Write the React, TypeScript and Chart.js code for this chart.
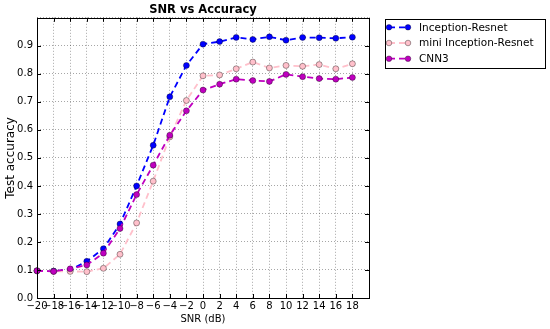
import React, { useEffect, useRef } from "react";
import { Chart, registerables } from "chart.js";

Chart.register(...registerables);

const snr = [-20, -18, -16, -14, -12, -10, -8, -6, -4, -2, 0, 2, 4, 6, 8, 10, 12, 14, 16, 18];
const inceptionResnet = [0.097, 0.096, 0.1, 0.131, 0.176, 0.264, 0.4, 0.545, 0.718, 0.83, 0.906, 0.915, 0.93, 0.923, 0.932, 0.92, 0.93, 0.929, 0.927, 0.931];
const miniInceptionResnet = [0.097, 0.095, 0.095, 0.094, 0.106, 0.156, 0.268, 0.417, 0.575, 0.705, 0.793, 0.796, 0.818, 0.842, 0.821, 0.83, 0.827, 0.833, 0.818, 0.836];
const cnn3 = [0.097, 0.095, 0.104, 0.118, 0.16, 0.248, 0.369, 0.474, 0.581, 0.668, 0.742, 0.763, 0.781, 0.776, 0.773, 0.798, 0.79, 0.783, 0.781, 0.787];
const seriesNames = ["Inception-Resnet", "mini Inception-Resnet", "CNN3"];
const seriesColors = ["#0000ff", "#ffc0cb", "#bf00bf"];
const chartTitle = "SNR vs Accuracy";
const xTitle = "SNR (dB)";
const yTitle = "Test accuracy";

const FONT = "'DejaVu Sans', sans-serif";

const framePlugin = {
  id: "frame",
  afterDraw(chart: any) {
    const { ctx, chartArea } = chart;
    const { left, right, top, bottom } = chartArea;
    ctx.save();
    ctx.strokeStyle = "#000";
    ctx.lineWidth = 1;
    // inward ticks
    const xs = chart.scales.x;
    const ys = chart.scales.y;
    ctx.beginPath();
    xs.ticks.forEach((t: any) => {
      const px = Math.round(xs.getPixelForValue(t.value)) + 0.5;
      ctx.moveTo(px, bottom);
      ctx.lineTo(px, bottom - 4);
      ctx.moveTo(px, top);
      ctx.lineTo(px, top + 4);
    });
    ys.ticks.forEach((t: any) => {
      const py = Math.round(ys.getPixelForValue(t.value)) + 0.5;
      ctx.moveTo(left, py);
      ctx.lineTo(left + 4, py);
      ctx.moveTo(right, py);
      ctx.lineTo(right - 4, py);
    });
    ctx.stroke();
    ctx.strokeRect(Math.round(left) + 0.5, Math.round(top) + 0.5, Math.round(right - left), Math.round(bottom - top));

    // legend
    const bx = right + 16;
    const by = top + 1;
    const bw = 160;
    const bh = 49;
    ctx.fillStyle = "#fff";
    ctx.fillRect(bx, by, bw, bh);
    ctx.strokeStyle = "#000";
    ctx.lineWidth = 1;
    ctx.strokeRect(Math.round(bx) + 0.5, Math.round(by) + 0.5, bw, bh);
    ctx.font = `10.5px ${FONT}`;
    ctx.textBaseline = "middle";
    ctx.textAlign = "left";
    chart.data.datasets.forEach((ds: any, i: number) => {
      const cy = by + 8.5 + i * 15.7;
      const x0 = bx + 4;
      const x1 = bx + 23;
      ctx.save();
      ctx.strokeStyle = ds.borderColor;
      ctx.lineWidth = 1.8;
      ctx.setLineDash([6, 4]);
      ctx.beginPath();
      ctx.moveTo(x0, cy);
      ctx.lineTo(x1, cy);
      ctx.stroke();
      ctx.setLineDash([]);
      [x0, x1].forEach((mx) => {
        ctx.beginPath();
        ctx.arc(mx, cy, 2.8, 0, Math.PI * 2);
        ctx.fillStyle = ds.pointBackgroundColor;
        ctx.fill();
        ctx.lineWidth = 0.6;
        ctx.strokeStyle = "rgba(0,0,0,0.6)";
        ctx.stroke();
      });
      ctx.restore();
      ctx.fillStyle = "#000";
      ctx.fillText(ds.label, bx + 34, cy + 0.5);
    });
    ctx.restore();
  },
};

export default function App() {
  const ref = useRef<HTMLCanvasElement>(null);
  useEffect(() => {
    document.body.style.margin = "0";
    const datasets = [inceptionResnet, miniInceptionResnet, cnn3].map((vals, i) => ({
      label: seriesNames[i],
      data: snr.map((x, j) => ({ x, y: vals[j] })),
      borderColor: seriesColors[i],
      backgroundColor: seriesColors[i],
      pointBackgroundColor: seriesColors[i],
      pointBorderColor: "rgba(0,0,0,0.6)",
      pointBorderWidth: 0.6,
      pointRadius: 3,
      borderWidth: 1.8,
      borderDash: [6, 4],
      tension: 0,
      fill: false,
      order: 3 - i,
      clip: 8,
    }));
    const chart = new Chart(ref.current!, {
      type: "line",
      data: { datasets },
      plugins: [framePlugin],
      options: {
        animation: false,
        responsive: false,
        layout: { padding: { left: 0, right: 181, top: 0, bottom: 0 } },
        plugins: {
          legend: { display: false },
          tooltip: { enabled: false },
          title: {
            display: true,
            text: chartTitle,
            fullSize: false,
            color: "#000",
            font: { family: FONT, size: 11.5, weight: "bold", lineHeight: 1.2 },
            padding: { top: 3, bottom: 1 },
          },
        },
        scales: {
          x: {
            type: "linear",
            min: -20,
            max: 20,
            afterFit: (s: any) => {
              s.height = 31;
            },
            ticks: {
              stepSize: 2,
              color: "#000",
              padding: 2,
              maxRotation: 0,
              autoSkip: false,
              font: { family: FONT, size: 10 },
              callback: (v: any) => (v === 20 ? "" : String(v).replace("-", "\u2212")),
            },
            grid: { color: "rgba(0,0,0,0.35)", lineWidth: 1, drawTicks: false },
            border: { display: false, dash: [1, 2] },
            title: {
              display: true,
              text: xTitle,
              color: "#000",
              font: { family: FONT, size: 10, lineHeight: 1.2 },
              padding: { top: 0, bottom: 4 },
            },
          },
          y: {
            type: "linear",
            min: 0,
            max: 1,
            afterFit: (s: any) => {
              s.width = 37;
            },
            ticks: {
              stepSize: 0.1,
              color: "#000",
              padding: 4,
              font: { family: FONT, size: 10 },
              callback: (v: any) => (Math.abs(v - 1) < 1e-6 ? "" : Number(v).toFixed(1)),
            },
            grid: { color: "rgba(0,0,0,0.35)", lineWidth: 1, drawTicks: false },
            border: { display: false, dash: [1, 2] },
            title: {
              display: true,
              text: yTitle,
              color: "#000",
              font: { family: FONT, size: 12, lineHeight: 1.2 },
              padding: { top: 4, bottom: 0 },
            },
          },
        },
      },
    });
    return () => chart.destroy();
  }, []);
  return (
    <div style={{ width: 550, height: 329, background: "#fff" }}>
      <canvas ref={ref} width={550} height={329} />
    </div>
  );
}
